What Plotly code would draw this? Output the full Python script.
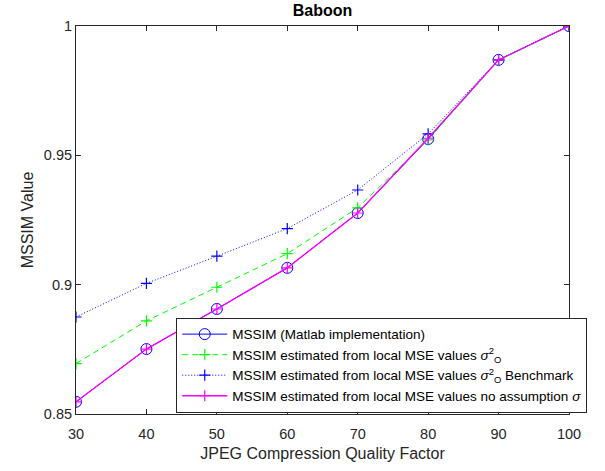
import plotly.graph_objects as go

quality = [30, 40, 50, 60, 70, 80, 90, 100]
mssim_matlab = [0.8547, 0.8751, 0.8906, 0.9065, 0.9277, 0.9563, 0.9869, 1.0]
mssim_sigma_o = [0.8695, 0.8860, 0.8990, 0.9120, 0.9297, 0.9560, 0.9867, 1.0]
mssim_benchmark = [0.8875, 0.9005, 0.9110, 0.9217, 0.9366, 0.9583, 0.9869, 1.0]
mssim_no_assume = [0.8547, 0.8751, 0.8906, 0.9065, 0.9277, 0.9566, 0.9869, 1.0]

y_ticks = [0.85, 0.9, 0.95, 1.0]
y_tick_labels = ["0.85", "0.9", "0.95", "1"]
x_ticks = [30, 40, 50, 60, 70, 80, 90, 100]

names = [
    "MSSIM (Matlab implementation)",
    "MSSIM estimated from local MSE values <i>σ</i><sup>2</sup><sub>O</sub>",
    "MSSIM estimated from local MSE values <i>σ</i><sup>2</sup><sub>O</sub> Benchmark",
    "MSSIM estimated from local MSE values no assumption <i>σ</i>",
]

fig = go.Figure()
fig.add_trace(go.Scatter(x=quality, y=mssim_matlab, name=names[0], mode="lines+markers",
                         line=dict(color="#0000ff", width=1),
                         marker=dict(symbol="circle-open", size=11, color="#0000ff", line=dict(width=1))))
fig.add_trace(go.Scatter(x=quality, y=mssim_sigma_o, name=names[1], mode="lines+markers",
                         line=dict(color="#00ff00", width=1, dash="6px,4px"),
                         marker=dict(symbol="cross-thin-open", size=8, color="#00ff00", line=dict(width=1.2, color="#00ff00"))))
fig.add_trace(go.Scatter(x=quality, y=mssim_benchmark, name=names[2], mode="lines+markers",
                         line=dict(color="#0000ff", width=1, dash="1px,2px"),
                         marker=dict(symbol="cross-thin-open", size=8, color="#0000ff", line=dict(width=1.2, color="#0000ff"))))
fig.add_trace(go.Scatter(x=quality, y=mssim_no_assume, name=names[3], mode="lines+markers",
                         line=dict(color="#ff00ff", width=1.3),
                         marker=dict(symbol="cross-thin-open", size=8, color="#ff00ff", line=dict(width=1.2, color="#ff00ff"))))

axis_common = dict(showline=True, linecolor="#262626", linewidth=1, mirror="ticks",
                   ticks="inside", ticklen=5, tickcolor="#262626", showgrid=False, zeroline=False,
                   tickfont=dict(family="Liberation Sans, Arial, sans-serif", size=14.5, color="#262626"))

fig.update_layout(
    width=605, height=471,
    margin=dict(l=76, r=36, t=26, b=57),
    paper_bgcolor="white", plot_bgcolor="white",
    font=dict(family="Liberation Sans, Arial, sans-serif", color="#262626"),
    title=dict(text="<b>Baboon</b>", x=0.5, xanchor="center", xref="paper", y=0.99, yanchor="top",
               font=dict(size=16, color="black")),
    xaxis=dict(range=[30, 100], tickvals=x_ticks, ticklabelstandoff=7,
               title=dict(text="JPEG Compression Quality Factor", font=dict(size=16), standoff=6),
               **axis_common),
    yaxis=dict(range=[0.85, 1.0], tickvals=y_ticks, ticktext=y_tick_labels,
               title=dict(text="MSSIM Value", font=dict(size=16), standoff=6), **axis_common),
    legend=dict(x=1.037, xanchor="right", y=0.003, yanchor="bottom", bgcolor="white",
                bordercolor="#262626", borderwidth=1, itemwidth=45,
                font=dict(size=13.5, color="black"), tracegroupgap=0),
    showlegend=True,
)

fig.write_html("out.html")
